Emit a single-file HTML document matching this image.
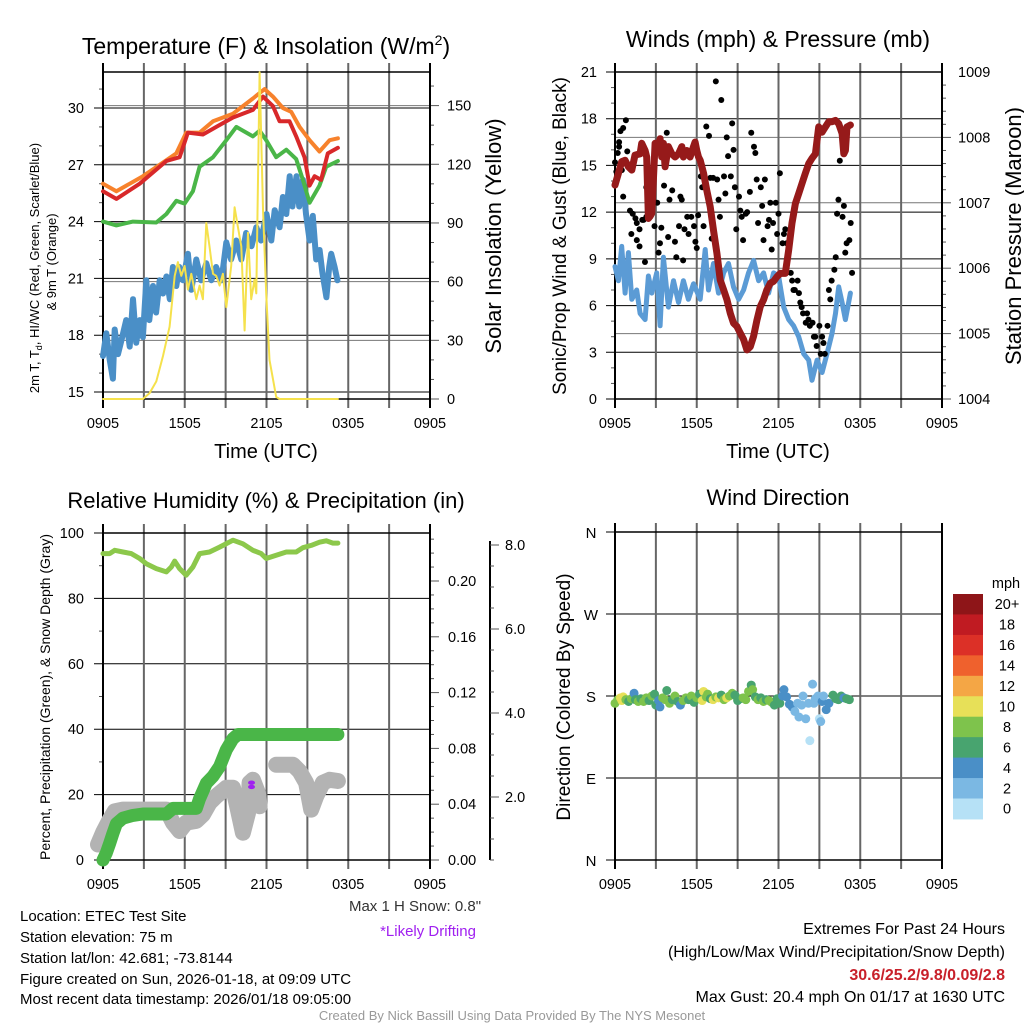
<!DOCTYPE html>
<html><head><meta charset="utf-8"><style>
body{margin:0;background:#fff;}
svg{display:block;font-family:"Liberation Sans",Arial,sans-serif;}
</style></head><body>
<svg id="fig" width="1024" height="1024" viewBox="0 0 1024 1024" xmlns="http://www.w3.org/2000/svg">
<g id="g1"></g>
<g id="g2"></g>
<g id="g3"></g>
<g id="g4"></g>
<g id="gt">
<text x="20" y="921" font-size="15">Location: ETEC Test Site</text>
<text x="20" y="942" font-size="15">Station elevation: 75 m</text>
<text x="20" y="963" font-size="15">Station lat/lon: 42.681; -73.8144</text>
<text x="20" y="984" font-size="15">Figure created on Sun, 2026-01-18, at 09:09 UTC</text>
<text x="20" y="1004" font-size="15">Most recent data timestamp: 2026/01/18 09:05:00</text>
<text x="415" y="911" font-size="15" text-anchor="middle" fill="#333">Max 1 H Snow: 0.8"</text>
<text x="428" y="936" font-size="15" text-anchor="middle" fill="#a020f0">*Likely Drifting</text>
<text x="1005" y="934" font-size="16" text-anchor="end">Extremes For Past 24 Hours</text>
<text x="1005" y="957" font-size="16" text-anchor="end">(High/Low/Max Wind/Precipitation/Snow Depth)</text>
<text x="1005" y="980" font-size="16" font-weight="bold" text-anchor="end" fill="#c8202a">30.6/25.2/9.8/0.09/2.8</text>
<text x="1005" y="1002" font-size="16" text-anchor="end">Max Gust: 20.4 mph On 01/17 at 1630 UTC</text>
<text x="512" y="1020" font-size="13" text-anchor="middle" fill="#999">Created By Nick Bassill Using Data Provided By The NYS Mesonet</text>
</g>
</svg>
<script>
// ---------- DATA ----------
const timeTickLabels=["0905","1505","2105","0305","0905"];
const orangeH=[0,0.98,2.93,4.16,5.38,6.11,7.09,8.07,9.54,11.0,11.86,12.47,13.2,13.81,14.43,15.16,15.89,16.63,17.24];
const orangeT=[26.0,25.6,26.4,27.0,27.6,28.7,28.7,29.3,29.7,30.5,31.0,30.6,30.0,29.8,29.0,28.3,27.7,28.3,28.4];
const redH=[0,0.98,2.69,4.65,5.62,6.23,7.33,8.56,9.54,11.0,11.74,12.47,12.96,13.69,14.18,14.79,15.16,15.53,16.01,16.5,17.24];
const redT=[25.6,25.2,26.0,27.2,27.4,28.7,28.6,29.1,29.5,29.9,30.6,30.1,29.3,29.3,28.5,27.4,25.9,26.4,26.2,27.6,27.9];
const greenH=[0,0.98,2.2,3.91,4.65,5.38,5.99,6.6,7.09,8.07,9.05,9.78,11.0,11.49,11.98,12.71,13.45,14.18,14.67,15.16,15.89,16.38,17.24];
const greenT=[24.0,23.8,24.0,23.95,24.4,25.1,24.95,25.6,26.9,27.4,28.3,29.0,28.5,28.8,28.3,27.4,27.8,27.3,26.2,25.0,25.9,26.9,27.2];
const blueH=[0,0.24,0.49,0.73,0.86,1.1,1.34,1.7,1.96,2.2,2.44,2.7,2.93,3.18,3.4,3.67,3.9,4.16,4.4,4.65,4.9,5.13,5.38,5.6,5.87,6.23,6.48,6.85,7.2,7.58,7.95,8.3,8.7,9.05,9.4,9.78,10.15,10.5,10.9,11.25,11.6,12.0,12.35,12.6,12.96,13.2,13.45,13.7,13.9,14.2,14.4,14.67,14.9,15.16,15.4,15.65,15.9,16.1,16.4,16.6,16.75,17.0,17.2];
const blueT=[16.9,18.1,16.7,15.7,18.3,17.0,17.7,18.8,17.4,19.9,17.6,18.8,17.9,20.9,18.8,20.6,19.2,20.9,20.2,21.1,19.9,21.6,20.6,21.6,20.9,22.3,20.4,22.0,20.9,21.8,20.9,21.6,20.9,22.9,22.0,23.0,22.0,23.4,22.7,23.7,23.0,24.4,23.0,24.6,23.7,25.3,24.4,26.4,24.8,26.4,24.8,26.2,24.4,23.0,24.3,22.0,22.5,21.3,20.0,21.6,22.3,21.6,20.9];
const insolH=[0,2.93,3.42,3.91,4.4,4.89,5.26,5.5,5.75,5.99,6.23,6.48,6.85,7.09,7.33,7.58,7.82,8.07,8.31,8.56,8.8,9.05,9.41,9.66,9.9,10.15,10.39,10.64,10.88,11.12,11.25,11.49,11.74,11.98,12.22,12.71,12.96,17.24];
const insolW=[0,0,3,9,22,37,63,70,63,68,56,64,51,58,51,90,78,64,63,58,64,47,68,98,88,78,35,85,51,61,54,167,97,54,20,1,0,0];

const windH=[0,0.25,0.49,0.74,0.98,1.23,1.59,1.84,2.21,2.45,2.7,3.06,3.31,3.55,3.92,4.29,4.66,5.02,5.39,5.76,6.25,6.62,6.86,7.23,7.6,7.97,8.33,8.7,9.07,9.44,9.8,10.17,10.54,10.91,11.27,11.64,12.01,12.38,12.75,13.11,13.48,13.85,14.22,14.46,14.83,15.2,15.56,15.93,16.18,16.42,16.67,16.91,17.28];
const windMph=[8.5,7.6,9.8,6.8,9.4,6.4,7.0,5.5,5.1,7.9,6.8,8.1,4.7,9.1,5.9,7.6,6.2,7.6,6.4,7.4,6.4,9.6,7.0,8.7,6.8,8.1,8.7,7.2,6.4,7.0,8.1,8.9,7.6,8.1,6.8,8.1,7.9,5.9,5.1,4.7,4.0,2.9,2.5,1.2,2.5,1.7,2.9,4.2,5.5,7.2,6.2,5.1,6.8];
const gustH=[0,0.1,0.2,0.3,0.4,0.6,0.8,0.3,0.5,0.9,0.6,1.1,1.3,1.5,1.6,1.8,2.0,2.1,1.2,1.6,1.8,2.2,2.3,2.6,2.8,2.3,2.9,3.1,3.2,3.3,3.4,3.6,3.8,3.9,4.0,4.2,4.4,4.5,4.7,4.8,4.9,5.0,5.1,5.3,5.4,5.6,5.8,5.9,6.0,6.1,6.3,6.4,6.5,6.7,6.9,7.0,7.1,7.2,7.4,7.5,7.6,7.7,7.8,8.0,8.1,8.2,8.3,8.5,8.6,8.7,8.8,8.9,9.1,9.2,9.3,9.4,9.6,9.7,9.9,10.0,10.2,10.3,10.4,10.5,10.7,10.8,10.9,11.0,11.2,11.3,11.4,11.5,11.6,11.8,11.9,12.0,12.1,12.3,12.4,12.5,12.6,12.7,12.9,13.0,13.1,13.2,13.4,13.5,13.6,13.7,13.8,14.0,14.1,14.2,14.3,14.5,14.6,14.7,14.8,15.0,15.1,15.2,15.3,15.4,15.6,15.7,15.8,15.9,16.1,16.2,16.3,16.4,16.5,16.7,16.8,16.9,17.0,17.2,17.3,17.4];
const gustMph=[15.2,14.6,15.8,16.5,17.2,17.4,17.9,16.2,14.7,15.9,13.0,12.1,11.9,11.6,10.2,10.9,11.5,11.5,10.6,11.3,9.8,8.8,13.6,14.1,12.8,11.7,11.1,12.6,9.4,10.0,11.0,13.7,17.1,10.4,12.8,13.4,10.1,9.1,11.1,13.0,12.8,8.9,10.9,11.7,10.6,11.7,11.1,10.1,9.7,11.8,14.3,13.6,11.1,17.5,16.9,14.2,10.3,14.2,20.4,14.1,12.8,11.7,19.2,14.3,13.2,16.8,15.6,14.3,17.7,16.0,13.6,10.9,13.0,12.1,11.7,10.2,11.9,12.0,13.3,17.1,16.2,15.8,14.1,11.3,13.6,12.4,10.2,14.1,11.1,11.5,12.6,9.6,11.3,12.6,10.6,11.9,14.5,10.0,10.6,10.9,10.0,9.1,8.1,7.6,7.0,7.0,7.6,6.8,6.2,5.9,5.5,4.9,5.5,5.1,4.7,4.9,4.0,4.0,3.4,4.7,2.9,4.0,3.6,2.9,4.7,7.0,6.4,7.6,8.3,9.1,11.9,12.8,15.3,11.7,12.4,9.4,10.0,10.2,11.3,8.1];
const presH=[0,0.25,0.49,0.74,0.98,1.23,1.47,1.84,1.96,2.21,2.33,2.45,2.57,2.7,2.94,3.19,3.31,3.43,3.55,3.68,3.92,4.17,4.41,4.66,4.9,5.02,5.27,5.51,5.76,5.88,6.0,6.13,6.25,6.5,6.74,6.99,7.23,7.48,7.72,7.97,8.21,8.46,8.7,8.95,9.19,9.44,9.68,9.93,10.17,10.42,10.66,10.91,11.15,11.4,11.64,11.89,12.13,12.5,12.75,12.99,13.24,13.48,13.73,13.97,14.22,14.46,14.71,14.95,15.2,15.44,15.69,15.93,16.18,16.42,16.67,16.79,16.91,17.03,17.28];
const presMb=[1007.27,1007.45,1007.63,1007.65,1007.55,1007.50,1007.73,1007.75,1007.91,1007.80,1007.70,1006.76,1006.79,1006.84,1007.91,1007.86,1007.98,1007.70,1007.91,1007.55,1007.86,1007.75,1007.70,1007.75,1007.86,1007.70,1007.80,1007.70,1007.86,1007.93,1007.80,1007.70,1007.65,1007.45,1007.19,1006.94,1006.58,1006.23,1005.82,1005.67,1005.52,1005.31,1005.16,1005.11,1005.01,1004.91,1004.75,1004.80,1004.96,1005.21,1005.41,1005.52,1005.67,1005.77,1005.80,1005.87,1005.92,1005.92,1006.28,1006.69,1006.99,1007.14,1007.30,1007.45,1007.60,1007.68,1007.75,1008.16,1008.08,1008.16,1008.24,1008.24,1008.26,1008.21,1008.06,1007.75,1007.80,1008.16,1008.19];

const rhH=[0,0.49,0.86,1.47,2.08,2.69,3.18,3.91,4.65,5.01,5.26,5.62,6.11,6.6,7.09,7.82,8.56,9.54,10.27,11.0,11.61,11.98,12.71,13.45,14.18,14.67,15.28,15.89,16.38,16.87,17.24];
const rhPct=[93.7,93.7,94.7,94.2,93.7,92.2,90.6,89.1,88.1,89.6,91.4,89.1,87.1,89.6,93.7,94.2,95.7,97.8,96.7,94.7,93.7,92.2,93.2,94.2,94.2,95.5,96.2,97.2,97.6,96.9,96.9];
const precipH=[0,0.24,0.49,0.73,0.98,1.47,2.2,2.93,4.65,5.13,6.85,7.09,7.58,8.07,8.56,9.05,9.54,9.9,17.24];
const precipIn=[0,0.005,0.012,0.019,0.026,0.030,0.032,0.033,0.033,0.037,0.037,0.044,0.055,0.060,0.067,0.079,0.087,0.090,0.090];
const snowH=[-0.37,0,0.49,0.86,1.47,4.65,5.13,5.62,6.11,6.85,7.33,7.82,8.31,9.05,9.54,9.9,10.27,10.64,10.76,11.0,11.37,11.49,null,12.71,13.94,14.43,14.91,15.28,15.65,16.14,16.63,17.24];
const snowIn=[0.87,1.15,1.46,1.66,1.70,1.70,1.39,1.19,1.39,1.43,1.58,1.86,2.02,2.22,2.22,1.70,1.15,1.62,2.34,2.41,2.10,1.78,null,2.77,2.77,2.61,2.34,1.70,2.02,2.34,2.41,2.38];
const driftH=[10.9,10.9];
const driftIn=[2.34,2.24];

const dirH=[0.0,0.2,0.4,0.5,0.6,0.8,1.0,1.2,1.4,1.5,1.7,1.9,2.1,2.3,2.5,2.7,2.9,3.0,3.2,3.3,3.5,3.7,3.8,4.0,4.2,4.4,4.6,4.8,5.0,5.2,5.4,5.6,5.8,6.0,6.2,6.4,6.5,6.7,6.8,7.0,7.2,7.4,7.6,7.8,8.0,8.2,8.4,8.6,8.8,9.0,9.2,9.4,9.6,9.8,10.0,10.1,10.3,10.5,10.7,10.9,11.1,11.3,11.5,11.7,11.9,12.1,12.3,12.4,12.6,12.8,13.0,13.2,13.4,13.5,13.7,13.8,14.0,14.2,14.3,14.5,14.6,14.7,14.9,15.0,15.1,15.2,15.3,15.5,15.7,16.0,16.2,16.4,16.6,16.8,17.0,17.2];
const dirDeg=[172,176,178,175,179,176,174,177,183,176,174,177,174,178,175,180,182,170,175,168,178,176,186,172,176,180,174,170,175,178,176,180,173,178,182,175,185,179,182,177,176,179,178,181,176,178,180,183,181,175,177,178,176,185,192,187,179,176,178,174,176,175,173,170,177,172,180,187,179,171,168,163,172,157,170,180,155,172,131,193,172,177,180,155,152,174,180,165,172,181,177,176,180,178,177,176];
const dirSpd=[8,8,10,10,10,8,6,8,4,6,8,6,8,8,6,8,6,6,4,4,8,8,6,8,6,8,6,4,8,8,6,8,6,8,6,10,10,8,8,6,10,8,10,6,8,10,8,8,6,6,6,8,8,8,6,8,6,8,6,8,6,8,8,6,6,6,4,4,4,4,4,2,2,2,2,2,2,2,0,2,2,2,2,0,2,4,2,4,4,6,6,6,6,4,6,6];
const speedLabels=["20+","18","16","14","12","10","8","6","4","2","0"];
const speedColors=["#8e1518","#c01b22","#dc3027","#ef612d","#f4a645","#e7e058","#7ec34c","#48a46f","#4a8fc7","#7bb8e3","#b6e1f6"];

// ---------- HELPERS ----------
const NS="http://www.w3.org/2000/svg";
function mk(parent,tag,attrs,txt){const e=document.createElementNS(NS,tag);for(const k in attrs)e.setAttribute(k,attrs[k]);if(txt!==undefined)e.textContent=txt;parent.appendChild(e);return e;}
function lin(d0,d1,r0,r1){return v=>r0+(v-d0)*(r1-r0)/(d1-d0);}
function pathD(xs,ys,sx,sy){let d="",pen=false;for(let i=0;i<xs.length;i++){if(xs[i]===null||ys[i]===null){pen=false;continue;}d+=(pen?"L":"M")+sx(xs[i]).toFixed(1)+","+sy(ys[i]).toFixed(1);pen=true;}return d;}

function timeAxis(g,L,R,T,B,labels){
  const sx=lin(0,24,L,R);
  for(let h=0;h<=24;h+=3){
    const x=sx(h);
    const ln=mk(g,"line",{x1:x,y1:T-9,x2:x,y2:B+9,stroke:(h===0||h===24)?"#000":"#666","stroke-width":2});
    
    
  }
  labels.forEach((lab,i)=>{const t=mk(g,"text",{x:sx(i*6),y:B+29,"font-size":14.5,"text-anchor":"middle"},lab);
    
    });
  return sx;
}
function frame(g,L,R,T,B){
  const r=mk(g,"rect",{x:L,y:T,width:R-L,height:B-T,fill:"none",stroke:"#000","stroke-width":1.5});
  
  
}
function hgrid(g,L,R,y,color,w){const l=mk(g,"line",{x1:L-9,y1:y,x2:R,y2:y,stroke:color,"stroke-width":w});
  
  }
function rtick(g,R,y,len){mk(g,"line",{x1:R,y1:y,x2:R+len,y2:y,stroke:"#555","stroke-width":1});}
function ltick(g,L,y,len){mk(g,"line",{x1:L-len,y1:y,x2:L,y2:y,stroke:"#555","stroke-width":1});}
function label(g,x,y,txt,anchor,size,name,rot){const a={x:x,y:y,"font-size":size,"text-anchor":anchor};if(rot)a.transform="rotate(-90 "+x+" "+y+")";const t=mk(g,"text",a,txt);
  
  return t;}
function polyline(g,d,color,w,name){const p=mk(g,"path",{d:d,fill:"none",stroke:color,"stroke-width":w,"stroke-linejoin":"round","stroke-linecap":"round"});
  
  return p;}

// ---------- PANEL 1: TEMPERATURE ----------
(function(){
  const g=document.getElementById("g1");const L=103,R=430,T=72,B=399;
  const sy=lin(15,30,392,108);const sr=lin(0,150,399,105.6);
  mk(g,"text",{x:266,y:54,"font-size":23,"text-anchor":"middle"}).innerHTML='Temperature (F) &amp; Insolation (W/m<tspan dy="-9" font-size="14">2</tspan><tspan dy="9">)</tspan>';
  
  
  for(let v=15;v<=30;v+=3){hgrid(g,L,R,sy(v),"#000",1);label(g,84,sy(v)+5,String(v),"end",14.5,"temp-tick-label");}
  for(let v=15;v<=31.9;v+=1){if((v-15)%3!==0)ltick(g,L,sy(v),4);}
  for(let v=0;v<=165;v+=10){rtick(g,R,sr(v),v%30===0?9:4);}
  for(let v=0;v<=150;v+=30){mk(g,"line",{x1:L,y1:sr(v),x2:R,y2:sr(v),stroke:"#777","stroke-width":1});label(g,447,sr(v)+5,String(v),"start",14.5,"insolation-tick-label");}
  const sx=timeAxis(g,L,R,T,B,timeTickLabels);
  frame(g,L,R,T,B);
  polyline(g,pathD(blueH,blueT,sx,sy),"#4a8fc7",6,"wind-chill-line");
  polyline(g,pathD(greenH,greenT,sx,sy),"#4ab648",4,"dewpoint-line");
  polyline(g,pathD(orangeH,orangeT,sx,sy),"#f7822c",4,"temp-9m-line");
  polyline(g,pathD(redH,redT,sx,sy),"#d8282a",4,"temp-2m-line");
  polyline(g,pathD(insolH,insolW,sx,sr),"#f5e14c",2,"insolation-line");
  label(g,266,458,"Time (UTC)","middle",20,"x-axis-title");
  label(g,39,268,"2m T, T","middle",13,"temp-y-axis-title",true).innerHTML='2m T, T<tspan font-size="9" dy="3">d</tspan><tspan dy="-3">, HI/WC (Red, Green, Scarlet/Blue)</tspan>';
  label(g,56,262,"& 9m T (Orange)","middle",13,"temp-y-axis-title-2",true);
  label(g,501,236,"Solar Insolation (Yellow)","middle",22,"insolation-axis-title",true);
})();

// ---------- PANEL 2: WIND & PRESSURE ----------
(function(){
  const g=document.getElementById("g2");const L=615,R=942,T=72,B=399;
  const sy=lin(0,21,399,72);const sp=lin(1004,1009,399,72);
  label(g,778,47,"Winds (mph) & Pressure (mb)","middle",23,"wind-title");
  for(let v=0;v<=21;v+=3){hgrid(g,L,R,sy(v),"#000",1);label(g,597,sy(v)+5,String(v),"end",14.5,"wind-tick-label");}
  for(let v=1;v<21;v++){if(v%3)ltick(g,L,sy(v),4);}
  for(let v=1004;v<=1009;v+=0.2){rtick(g,R,sp(v),Math.abs(v-Math.round(v))<0.01?9:4);}
  for(let v=1004;v<=1009;v++){mk(g,"line",{x1:L,y1:sp(v),x2:R,y2:sp(v),stroke:"#777","stroke-width":1});label(g,958,sp(v)+5,String(v),"start",14.5,"pressure-tick-label");}
  const sx=timeAxis(g,L,R,T,B,timeTickLabels);
  frame(g,L,R,T,B);
  polyline(g,pathD(windH,windMph,sx,sy),"#5b9bd5",5,"sustained-wind-line");
  for(let i=0;i<gustH.length;i++){const c=mk(g,"circle",{cx:sx(gustH[i]),cy:sy(gustMph[i]),r:3,fill:"#000"});
    
    }
  polyline(g,pathD(presH,presMb,sx,sp),"#961a1a",7,"pressure-line");
  label(g,778,458,"Time (UTC)","middle",20,"x-axis-title");
  label(g,566,236,"Sonic/Prop Wind & Gust (Blue, Black)","middle",19,"wind-y-axis-title",true);
  label(g,1021,236,"Station Pressure (Maroon)","middle",22,"pressure-axis-title",true);
})();

// ---------- PANEL 3: RH & PRECIP ----------
(function(){
  const g=document.getElementById("g3");const L=103,R=430,T=533,B=860;
  const sy=lin(0,100,860,533);const spr=lin(0,0.2,860,581);const ssn=lin(2,8,797,545);
  label(g,266,508,"Relative Humidity (%) & Precipitation (in)","middle",22,"humidity-title");
  for(let v=0;v<=100;v+=20){hgrid(g,L,R,sy(v),"#000",1);label(g,84,sy(v)+5,String(v),"end",14.5,"rh-tick-label");}
  for(let v=10;v<100;v+=20)ltick(g,L,sy(v),4);
  for(let v=0;v<=0.234;v+=0.01){rtick(g,R,spr(v),Math.round(v*100)%4===0?9:4);}
  for(let v=0;v<=0.2001;v+=0.04){label(g,448,spr(v)+5,v.toFixed(2),"start",14.5,"precip-tick-label");}
  mk(g,"line",{x1:490,y1:541,x2:490,y2:860,stroke:"#000","stroke-width":2});
  for(let v=0.5;v<=8.2;v+=0.5){const y=ssn(v);if(y<=860)mk(g,"line",{x1:490,y1:y,x2:490+(v%2===0?9:4),y2:y,stroke:"#555","stroke-width":1});}
  for(let v=2;v<=8;v+=2)label(g,505,ssn(v)+5,v.toFixed(1),"start",14.5,"snow-tick-label");
  const sx=timeAxis(g,L,R,T,B,timeTickLabels);
  frame(g,L,R,T,B);
  polyline(g,pathD(snowH,snowIn,sx,ssn),"#b3b3b3",16,"snow-depth-line");
  polyline(g,pathD(precipH,precipIn,sx,spr),"#4ab648",13,"precip-line");
  polyline(g,pathD(rhH,rhPct,sx,sy),"#8cc84b",5,"rh-line");
  for(let i=0;i<driftH.length;i++){const c=mk(g,"ellipse",{cx:sx(driftH[i]),cy:ssn(driftIn[i]),rx:3.5,ry:2.2,fill:"#a020f0"});
    
    }
  label(g,50,697,"Percent, Precipitation (Green), & Snow Depth (Gray)","middle",14,"rh-y-axis-title",true);
})();

// ---------- PANEL 4: WIND DIRECTION ----------
(function(){
  const g=document.getElementById("g4");const L=615,R=942,T=532,B=860;
  const sy=lin(0,360,860,532);
  label(g,778,505,"Wind Direction","middle",22,"direction-title");
  const dl=["N","E","S","W","N"];
  for(let i=0;i<5;i++){hgrid(g,L,R,sy(i*90),"#000",1);label(g,591,sy(i*90)+6,dl[i],"middle",15,"direction-tick-label");}
  const sx=timeAxis(g,L,R,T,B,timeTickLabels);
  frame(g,L,R,T,B);
  for(let i=0;i<dirH.length;i++){const idx=Math.max(0,10-Math.min(10,Math.floor(dirSpd[i]/2)));
    const c=mk(g,"circle",{cx:sx(dirH[i]),cy:sy(dirDeg[i]),r:4.5,fill:speedColors[idx]});
    
    }
  label(g,570,697,"Direction (Colored By Speed)","middle",19,"direction-y-axis-title",true);
  const cbT=594,cbH=20.45;
  label(g,1006,588,"mph","middle",14.5,"colorbar-title");
  speedLabels.forEach((lab,i)=>{const r=mk(g,"rect",{x:953,y:cbT+i*cbH,width:30,height:cbH+0.5,fill:speedColors[i]});
    
    
    label(g,1007,cbT+i*cbH+cbH/2+5,lab,"middle",14.5,"colorbar-label");});
})();
</script>
</body></html>
